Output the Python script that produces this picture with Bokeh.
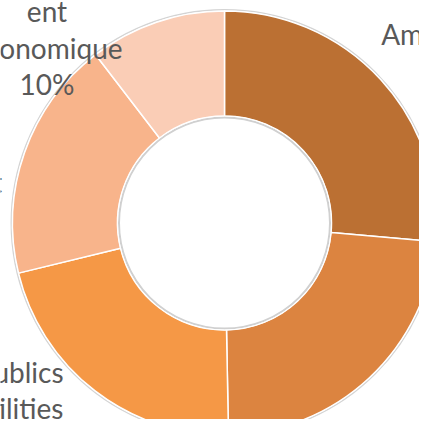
import math
from bokeh.plotting import figure
from bokeh.models import ColumnDataSource, Range1d
from bokeh.core.properties import value
from bokeh.embed import file_html
from bokeh.resources import INLINE

# ---- data ----
categories = ["Aménagement rural", "Environnement", "Services publics Utilities",
              "Transport", "Développement économique"]
shares = [26.4, 23.3, 21.5, 18.4, 10.4]
colors = ["#BB7033", "#DC8440", "#F59846", "#F8B48B", "#FACDB6"]
# wrapped label names (as the chart wraps them)
wrapped = ["Aménagement\nrural", "Environnement", "Services publics\nUtilities",
           "Transport", "Développem\nent\néconomique"]

# ---- layout (picture pixels, y measured from the top) ----
W = H = 419
def sx(x):
    return x
def sy(y):
    return H - y

cx, cy = sx(224), sy(222.5)
R_OUT, R_IN = 212, 107

total = sum(shares)
starts, ends = [], []
acc = 0.0
for v in shares:
    starts.append(math.pi / 2 - 2 * math.pi * acc / total)
    acc += v
    ends.append(math.pi / 2 - 2 * math.pi * acc / total)

wedges = ColumnDataSource(dict(start=starts, end=ends, color=colors, cat=categories))

# label anchors (picture px) and alignment
lab_pos = [(470, 70), (500, 470), (63, 408), (-57, 200), (46.5, 29)]
lab_align = ["center", "center", "right", "center", "center"]
labels = ColumnDataSource(dict(
    x=[sx(p[0]) for p in lab_pos],
    y=[sy(p[1]) for p in lab_pos],
    text=[f"{w}\n{round(v)}%" for w, v in zip(wrapped, shares)],
    align=lab_align,
))

p = figure(width=W, height=H, output_backend="svg", toolbar_location=None,
           x_range=Range1d(0, W), y_range=Range1d(0, H),
           min_border=0, outline_line_color=None, background_fill_color="white",
           border_fill_color="white")
p.axis.visible = False
p.grid.visible = False

# outer soft shadow ring
p.circle(x=[cx], y=[cy], radius=R_OUT + 1.2, fill_color=None,
         line_color="#d4d4d4", line_width=1.5)

p.annular_wedge(x=cx, y=cy, inner_radius=R_IN, outer_radius=R_OUT,
                start_angle="start", end_angle="end", direction="clock",
                fill_color="color", line_color="white", line_width=1.5,
                source=wedges)

# inner hole edge (inset shadow)
p.circle(x=[cx], y=[cy], radius=R_IN - 1.5, fill_color=None,
         line_color="#d0d0d0", line_width=2)
p.circle(x=[cx], y=[cy], radius=R_IN, fill_color=None,
         line_color="white", line_width=1)

p.text(x="x", y="y", text="text", source=labels, text_align="align",
       text_baseline="middle", text_font=value("Lato"), text_font_size="28px",
       text_color="#595959", text_line_height=1.07)

open("out.html", "w").write(file_html(p, INLINE))
